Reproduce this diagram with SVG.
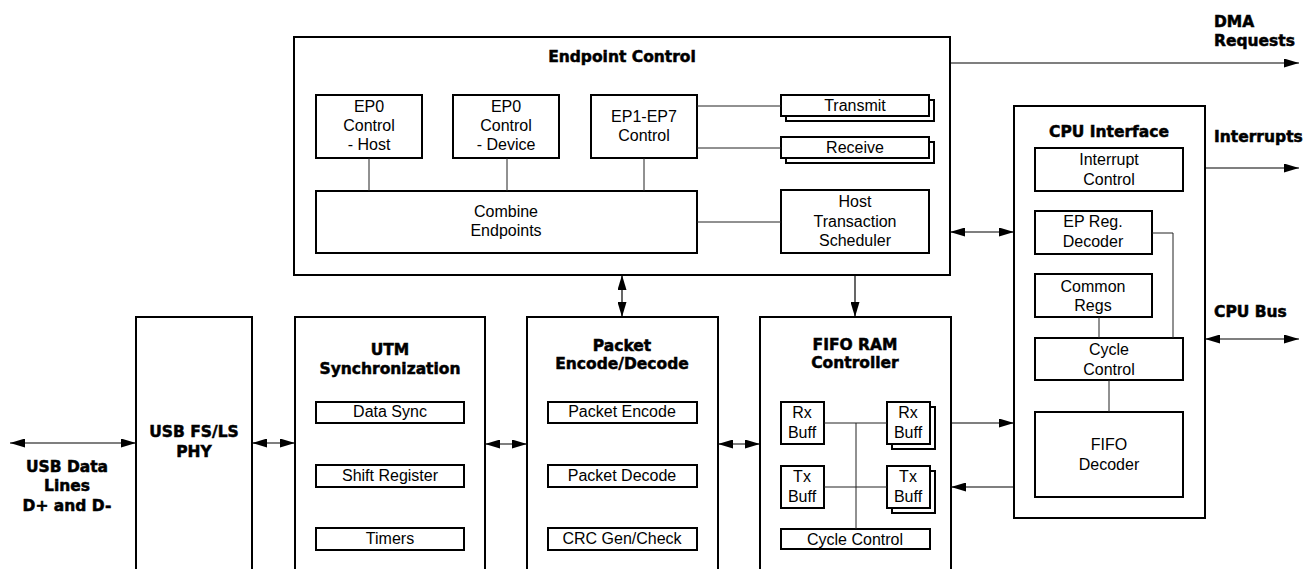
<svg xmlns="http://www.w3.org/2000/svg" width="1305" height="569" viewBox="0 0 1305 569">
<style>
.box{fill:#fff;stroke:#000;stroke-width:2}
.ib{fill:#fff;stroke:#000;stroke-width:2}
.ln{fill:none;stroke:#222;stroke-width:1}
.ar{fill:none;stroke:#000;stroke-width:1.2}
.t{font-family:"Liberation Sans",Arial,sans-serif;font-size:16px;fill:#000;text-anchor:middle}
.b{font-family:"DejaVu Sans","Liberation Sans",sans-serif;font-weight:bold;font-size:15.5px;fill:#000;stroke:#000;stroke-width:0.5;text-anchor:middle}
.bl{font-family:"DejaVu Sans","Liberation Sans",sans-serif;font-weight:bold;font-size:15.5px;fill:#000;stroke:#000;stroke-width:0.5;text-anchor:start}
</style>
<defs>
<marker id="ah" viewBox="0 0 15 9" refX="15" refY="4.5" markerWidth="15" markerHeight="9" markerUnits="userSpaceOnUse" orient="auto-start-reverse">
<path d="M0,0 L15,4.5 L0,9 z" fill="#000"/>
</marker>
</defs>
<rect width="1305" height="569" fill="#fff"/>

<g id="endpoint-control">
<rect class="box" x="294" y="37" width="656" height="238"/>
<text class="b" x="622" y="62">Endpoint Control</text>
<g id="ep0-host"><rect class="ib" x="316" y="95" width="106" height="63"/>
<text class="t" x="369" y="112">EP0</text><text class="t" x="369" y="131">Control</text><text class="t" x="369" y="150">- Host</text></g>
<g id="ep0-device"><rect class="ib" x="453" y="95" width="106" height="63"/>
<text class="t" x="506" y="112">EP0</text><text class="t" x="506" y="131">Control</text><text class="t" x="506" y="150">- Device</text></g>
<g id="ep1-ep7"><rect class="ib" x="591" y="95" width="106" height="63"/>
<text class="t" x="644" y="122">EP1-EP7</text><text class="t" x="644" y="141">Control</text></g>
<g id="combine"><rect class="ib" x="316" y="191" width="381" height="62"/>
<text class="t" x="506" y="217">Combine</text><text class="t" x="506" y="236">Endpoints</text></g>
<g id="transmit"><rect class="ib" x="786" y="100" width="148" height="21"/><rect class="ib" x="781" y="95" width="148" height="21"/>
<text class="t" x="855" y="111">Transmit</text></g>
<g id="receive"><rect class="ib" x="786" y="142" width="148" height="21"/><rect class="ib" x="781" y="137" width="148" height="21"/>
<text class="t" x="855" y="153">Receive</text></g>
<g id="host-sched"><rect class="ib" x="781" y="190" width="148" height="63"/>
<text class="t" x="855" y="207">Host</text><text class="t" x="855" y="227">Transaction</text><text class="t" x="855" y="246">Scheduler</text></g>
</g>

<g id="cpu-interface">
<rect class="box" x="1014" y="106" width="191" height="412"/>
<text class="b" x="1109" y="137">CPU Interface</text>
<g id="int-ctrl"><rect class="ib" x="1035" y="148" width="148" height="43"/>
<text class="t" x="1109" y="165">Interrupt</text><text class="t" x="1109" y="185">Control</text></g>
<g id="ep-reg"><rect class="ib" x="1035" y="211" width="117" height="43"/>
<text class="t" x="1093" y="227">EP Reg.</text><text class="t" x="1093" y="247">Decoder</text></g>
<g id="common-regs"><rect class="ib" x="1035" y="274" width="117" height="43"/>
<text class="t" x="1093" y="292">Common</text><text class="t" x="1093" y="311">Regs</text></g>
<g id="cpu-cycle"><rect class="ib" x="1035" y="338" width="148" height="42"/>
<text class="t" x="1109" y="355">Cycle</text><text class="t" x="1109" y="375">Control</text></g>
<g id="fifo-decoder"><rect class="ib" x="1035" y="412" width="148" height="85"/>
<text class="t" x="1109" y="450">FIFO</text><text class="t" x="1109" y="470">Decoder</text></g>
</g>

<g id="usb-phy">
<rect class="box" x="136" y="317" width="116" height="300"/>
<text class="b" x="194" y="437">USB FS/LS</text>
<text class="b" x="194" y="457">PHY</text>
</g>

<g id="utm-sync">
<rect class="box" x="295" y="317" width="190" height="300"/>
<text class="b" x="390" y="355">UTM</text>
<text class="b" x="390" y="374">Synchronization</text>
<g id="data-sync"><rect class="ib" x="316" y="402" width="148" height="21"/><text class="t" x="390" y="417">Data Sync</text></g>
<g id="shift-reg"><rect class="ib" x="316" y="465" width="148" height="22"/><text class="t" x="390" y="481">Shift Register</text></g>
<g id="timers"><rect class="ib" x="316" y="528" width="148" height="22"/><text class="t" x="390" y="544">Timers</text></g>
</g>

<g id="packet">
<rect class="box" x="527" y="317" width="191" height="300"/>
<text class="b" x="622" y="351">Packet</text>
<text class="b" x="622" y="369">Encode/Decode</text>
<g id="pkt-enc"><rect class="ib" x="548" y="402" width="149" height="21"/><text class="t" x="622" y="417">Packet Encode</text></g>
<g id="pkt-dec"><rect class="ib" x="548" y="465" width="149" height="22"/><text class="t" x="622" y="481">Packet Decode</text></g>
<g id="crc"><rect class="ib" x="548" y="528" width="149" height="22"/><text class="t" x="622" y="544">CRC Gen/Check</text></g>
</g>

<g id="fifo-ram">
<rect class="box" x="760" y="317" width="191" height="300"/>
<text class="b" x="855" y="350">FIFO RAM</text>
<text class="b" x="855" y="368">Controller</text>
<g id="rx-buff-l"><rect class="ib" x="781" y="402" width="43" height="42"/>
<text class="t" x="802" y="418">Rx</text><text class="t" x="802" y="438">Buff</text></g>
<g id="rx-buff-r"><rect class="ib" x="892" y="407" width="43" height="42"/><rect class="ib" x="887" y="402" width="43" height="42"/>
<text class="t" x="908" y="418">Rx</text><text class="t" x="908" y="438">Buff</text></g>
<g id="tx-buff-l"><rect class="ib" x="781" y="466" width="43" height="42"/>
<text class="t" x="802" y="482">Tx</text><text class="t" x="802" y="502">Buff</text></g>
<g id="tx-buff-r"><rect class="ib" x="892" y="471" width="43" height="42"/><rect class="ib" x="887" y="466" width="43" height="42"/>
<text class="t" x="908" y="482">Tx</text><text class="t" x="908" y="502">Buff</text></g>
<g id="fifo-cycle"><rect class="ib" x="781" y="529" width="149" height="20"/><text class="t" x="855" y="545">Cycle Control</text></g>
</g>

<g id="labels">
<text class="bl" x="1214" y="27">DMA</text>
<text class="bl" x="1214" y="46">Requests</text>
<text class="bl" x="1214" y="142">Interrupts</text>
<text class="bl" x="1214" y="317">CPU Bus</text>
<text class="b" x="67" y="472">USB Data</text>
<text class="b" x="67" y="491">Lines</text>
<text class="b" x="67" y="511">D+ and D-</text>
</g>

<g id="connectors">
<line class="ln" x1="369" y1="158" x2="369" y2="191"/>
<line class="ln" x1="507" y1="158" x2="507" y2="191"/>
<line class="ln" x1="644" y1="158" x2="644" y2="191"/>
<line class="ln" x1="697" y1="106" x2="781" y2="106"/>
<line class="ln" x1="697" y1="148" x2="781" y2="148"/>
<line class="ln" x1="697" y1="222" x2="781" y2="222"/>
<polyline class="ln" points="1152,233 1173,233 1173,338"/>
<line class="ln" x1="1099" y1="317" x2="1099" y2="338"/>
<line class="ln" x1="1109" y1="380" x2="1109" y2="412"/>
<line class="ln" x1="824" y1="423" x2="887" y2="423"/>
<line class="ln" x1="824" y1="487" x2="887" y2="487"/>
<line class="ln" x1="856" y1="423" x2="856" y2="529"/>
<line class="ar" x1="950" y1="63" x2="1299" y2="63" marker-end="url(#ah)"/>
<line class="ar" x1="1205" y1="168" x2="1299" y2="168" marker-end="url(#ah)"/>
<line class="ar" x1="1205" y1="339" x2="1299" y2="339" marker-start="url(#ah)" marker-end="url(#ah)"/>
<line class="ar" x1="950" y1="232" x2="1014" y2="232" marker-start="url(#ah)" marker-end="url(#ah)"/>
<line class="ar" x1="622" y1="275" x2="622" y2="317" marker-start="url(#ah)" marker-end="url(#ah)"/>
<line class="ar" x1="855" y1="275" x2="855" y2="317" marker-end="url(#ah)"/>
<line class="ar" x1="10" y1="443" x2="136" y2="443" marker-start="url(#ah)" marker-end="url(#ah)"/>
<line class="ar" x1="252" y1="443" x2="295" y2="443" marker-start="url(#ah)" marker-end="url(#ah)"/>
<line class="ar" x1="485" y1="444" x2="527" y2="444" marker-start="url(#ah)" marker-end="url(#ah)"/>
<line class="ar" x1="718" y1="444" x2="760" y2="444" marker-start="url(#ah)" marker-end="url(#ah)"/>
<line class="ar" x1="951" y1="423" x2="1014" y2="423" marker-end="url(#ah)"/>
<line class="ar" x1="1014" y1="487" x2="951" y2="487" marker-end="url(#ah)"/>
</g>
</svg>
